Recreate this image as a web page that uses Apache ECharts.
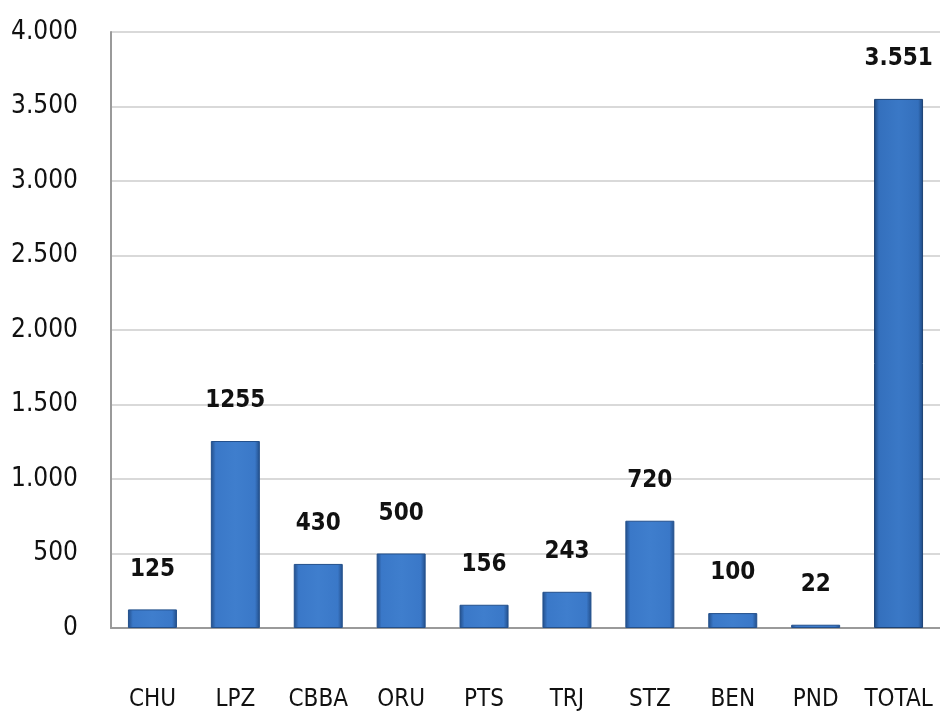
<!DOCTYPE html>
<html>
<head>
<meta charset="utf-8">
<script src="https://cdn.jsdelivr.net/npm/echarts@6/dist/echarts.min.js"></script>
<style>
  html, body { margin: 0; padding: 0; background: #fff; }
  #chart { width: 940px; height: 721px; }
</style>
</head>
<body>
<div id="chart"></div>
<script>
// departamentos
const categories = ["CHU", "LPZ", "CBBA", "ORU", "PTS", "TRJ", "STZ", "BEN", "PND", "TOTAL"];
const values = [125, 1255, 430, 500, 156, 243, 720, 100, 22, 3551];
const barLabels = ["125", "1255", "430", "500", "156", "243", "720", "100", "22", "3.551"];
const yTicks = [0, 500, 1000, 1500, 2000, 2500, 3000, 3500, 4000];

const FONT = "'DejaVu Sans Condensed', 'DejaVu Sans', sans-serif";

// borde oscuro a los lados, cuerpo plano
const bevel = (dark, mid, light) => new echarts.graphic.LinearGradient(0, 0, 1, 0, [
  { offset: 0, color: dark },
  { offset: 0.1, color: mid },
  { offset: 0.5, color: light },
  { offset: 0.9, color: mid },
  { offset: 1, color: dark }
]);

const myChart = echarts.init(document.getElementById("chart"));
const option = {
  animation: false,
  grid: { left: 111, top: 32, width: 832, height: 596 },
  xAxis: {
    type: "category",
    data: categories,
    axisTick: { show: false },
    axisLine: { lineStyle: { color: "#9a9a9a", width: 2 } },
    axisLabel: { interval: 0, margin: 60, fontFamily: FONT, fontSize: 24, color: "#111" }
  },
  yAxis: {
    type: "value",
    min: 0,
    max: 4000,
    interval: 500,
    axisLine: { show: true, lineStyle: { color: "#9a9a9a", width: 2 } },
    axisTick: { show: false },
    splitLine: { lineStyle: { color: "#d9d9d9", width: 2 } },
    axisLabel: {
      margin: 33,
      fontFamily: FONT,
      fontSize: 26,
      color: "#111",
      // 千位分隔用点
      formatter: v => yTicks.includes(v) ? String(v).replace(/\B(?=(\d{3})+(?!\d))/g, ".") : ""
    }
  },
  series: [
    {
      type: "bar",
      barWidth: 49,
      data: values.map((v, i) => ({
        value: v,
        itemStyle: i === values.length - 1
          ? { color: bevel("#1d477f", "#3470bd", "#3a78c6"), borderColor: "#1c4275", borderWidth: 1 }
          : { color: bevel("#224d88", "#3a78c8", "#3f7ecd"), borderColor: "#23508c", borderWidth: 1 }
      })),
      label: {
        show: true,
        position: "top",
        distance: 28,
        fontFamily: FONT,
        fontSize: 24,
        fontWeight: "bold",
        color: "#111",
        formatter: p => barLabels[p.dataIndex]
      }
    }
  ]
};
option && myChart.setOption(option);
</script>
</body>
</html>
